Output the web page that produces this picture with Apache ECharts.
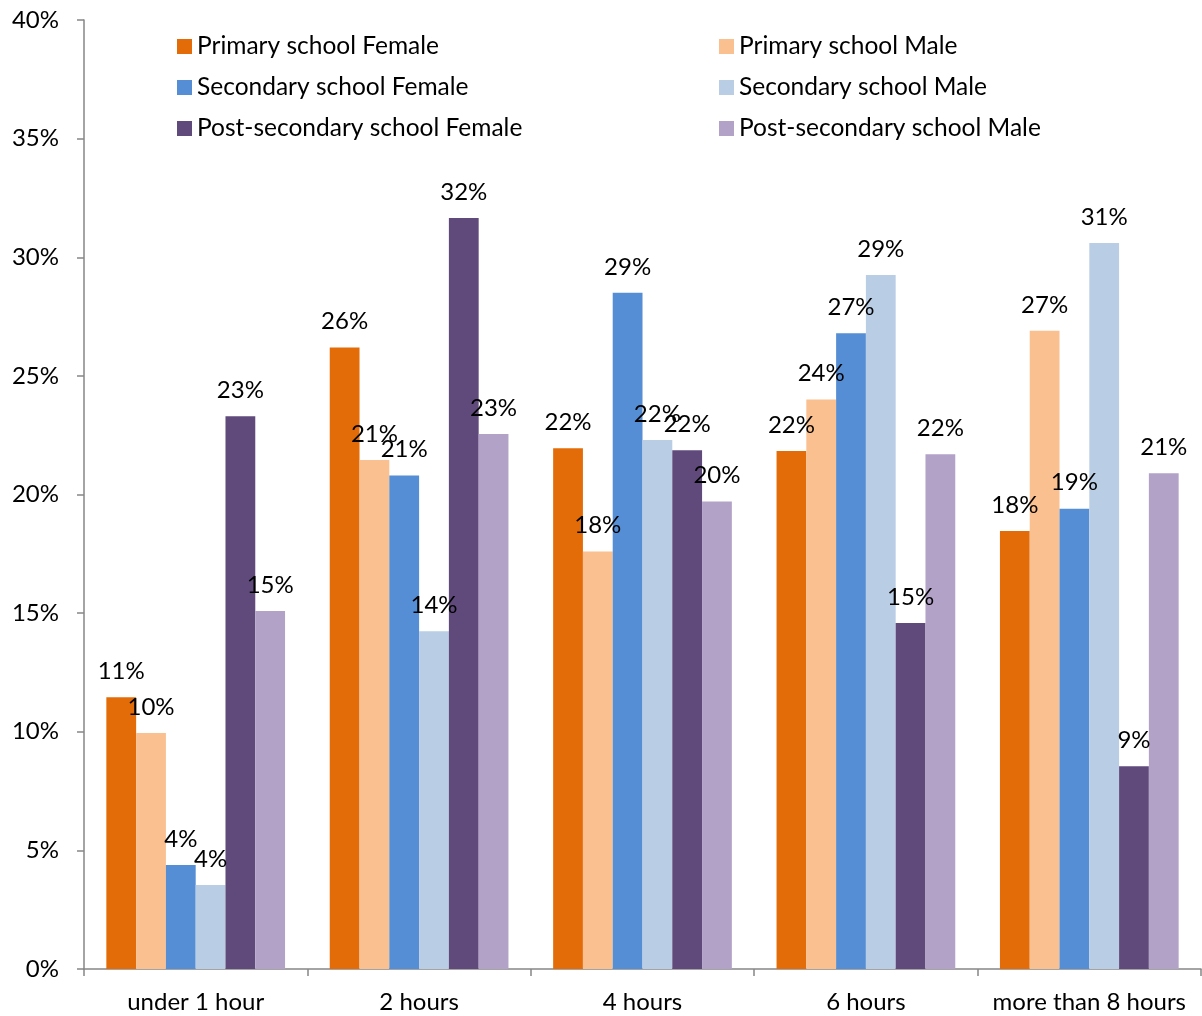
<!DOCTYPE html>
<html>
<head>
<meta charset="utf-8">
<script src="https://cdn.jsdelivr.net/npm/echarts@6/dist/echarts.min.js"></script>
<style>
  html, body { margin: 0; padding: 0; background: #fff; }
  #chart { width: 1202px; height: 1016px; }
</style>
</head>
<body>
<div id="chart"></div>
<script>
// categories on the x axis
const categories = ['under 1 hour', '2 hours', '4 hours', '6 hours', 'more than 8 hours'];

// series values (percent)
const primaryFemale = [11.45, 26.2, 21.95, 21.83, 18.46];
const primaryMale = [9.95, 21.45, 17.6, 24.0, 26.9];
const secondaryFemale = [4.38, 20.8, 28.5, 26.8, 19.4];
const secondaryMale = [3.54, 14.24, 22.3, 29.25, 30.6];
const postFemale = [23.3, 31.65, 21.87, 14.58, 8.55];
const postMale = [15.09, 22.55, 19.7, 21.7, 20.9];

const FONT = 'Lato, "Open Sans", sans-serif';
const FS = 24;

const chart = echarts.init(document.getElementById('chart'));

const makeSeries = (name, data, color) => ({
  name,
  type: 'bar',
  data,
  barGap: 0,
  barCategoryGap: '20%',
  itemStyle: { color },
  label: {
    show: true,
    position: 'top',
    distance: 14,
    color: '#000',
    fontFamily: FONT,
    fontSize: FS,
    formatter: (p) => Math.round(p.value) + '%'
  }
});

const legendBase = {
  orient: 'vertical',
  top: 29,
  icon: 'rect',
  itemWidth: 15,
  itemHeight: 15,
  itemGap: 16,
  textStyle: { fontFamily: FONT, fontSize: 24.5, color: '#000', lineHeight: 24.5 }
};

const option = {
  animation: false,
  textStyle: { fontFamily: FONT },
  grid: { left: 84, right: 1, top: 20, bottom: 47 },
  legend: [
    Object.assign({}, legendBase, { left: 172, data: ['Primary school Female', 'Secondary school Female', 'Post-secondary school Female'] }),
    Object.assign({}, legendBase, { left: 714, data: ['Primary school Male', 'Secondary school Male', 'Post-secondary school Male'] })
  ],
  xAxis: {
    type: 'category',
    data: categories,
    axisLine: { lineStyle: { color: '#868686', width: 1.5 } },
    axisTick: { show: true, length: 7, lineStyle: { color: '#868686', width: 1.5 } },
    axisLabel: { color: '#000', fontSize: FS, fontFamily: FONT, margin: 21, interval: 0 }
  },
  yAxis: {
    type: 'value',
    min: 0,
    max: 40,
    interval: 5,
    splitLine: { show: false },
    axisLine: { show: true, lineStyle: { color: '#868686', width: 1.5 } },
    axisTick: { show: true, length: 7, lineStyle: { color: '#868686', width: 1.5 } },
    axisLabel: { color: '#000', fontSize: FS, fontFamily: FONT, margin: 25, formatter: '{value}%' }
  },
  series: [
    makeSeries('Primary school Female', primaryFemale, '#E36C09'),
    makeSeries('Primary school Male', primaryMale, '#FAC090'),
    makeSeries('Secondary school Female', secondaryFemale, '#558ED5'),
    makeSeries('Secondary school Male', secondaryMale, '#B9CDE5'),
    makeSeries('Post-secondary school Female', postFemale, '#604A7B'),
    makeSeries('Post-secondary school Male', postMale, '#B3A2C7')
  ]
};

chart.setOption(option);
</script>
</body>
</html>
